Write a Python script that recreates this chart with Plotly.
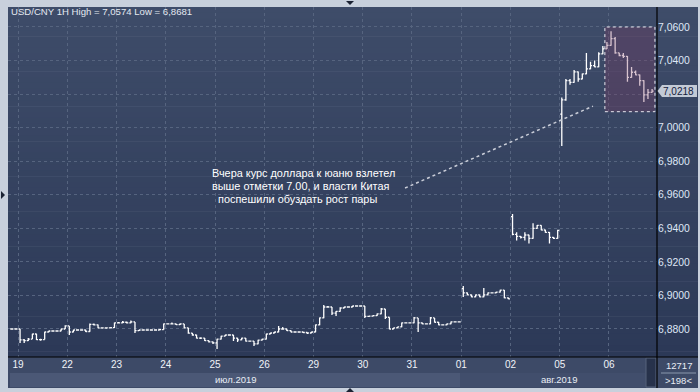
import plotly.graph_objects as go

# ---------------- data ----------------
day_labels = ["19", "22", "23", "24", "25", "26", "29", "30", "31", "01", "02", "05", "06"]
month_labels = ["июл.2019", "авг.2019"]
bars_per_day = 12
lead_bars = 2          # bars of 18 Jul visible before the 19th

opens = [
    6.8800, 6.8800,
    # 19
    6.8800, 6.8735, 6.8730, 6.8740, 6.8770, 6.8737, 6.8737, 6.8782, 6.8788, 6.8788, 6.8788, 6.8800,
    # 22
    6.8818, 6.8782, 6.8794, 6.8794, 6.8794, 6.8785, 6.8828, 6.8825, 6.8806, 6.8806, 6.8806, 6.8808,
    # 23
    6.8836, 6.8836, 6.8840, 6.8836, 6.8842, 6.8790, 6.8794, 6.8794, 6.8794, 6.8794, 6.8794, 6.8796,
    # 24
    6.8830, 6.8830, 6.8830, 6.8826, 6.8830, 6.8806, 6.8775, 6.8764, 6.8746, 6.8746, 6.8730, 6.8723,
    # 25
    6.8717, 6.8740, 6.8758, 6.8764, 6.8764, 6.8746, 6.8735, 6.8746, 6.8728, 6.8728, 6.8711, 6.8734,
    # 26
    6.8740, 6.8770, 6.8776, 6.8782, 6.8800, 6.8800, 6.8790, 6.8782, 6.8782, 6.8782, 6.8779, 6.8776,
    # 29
    6.8782, 6.8824, 6.8866, 6.8931, 6.8931, 6.8895, 6.8905, 6.8925, 6.8931, 6.8931, 6.8937, 6.8937,
    # 30
    6.8937, 6.8875, 6.8877, 6.8880, 6.8890, 6.8919, 6.8870, 6.8800, 6.8806, 6.8812, 6.8836, 6.8836,
    # 31
    6.8836, 6.8866, 6.8836, 6.8830, 6.8830, 6.8866, 6.8840, 6.8824, 6.8824, 6.8830, 6.8842, 6.8842,
    # 01
    6.9040, 6.9015, 6.9003, 6.8991, 6.9003, 6.8991, 6.9003, 6.9015, 6.9015, 6.9020, 6.9032, 6.8985,
    # 02
    6.9470, 6.9364, 6.9352, 6.9346, 6.9360, 6.9340, 6.9400, 6.9418, 6.9390, 6.9376, 6.9346, 6.9340,
    # 05
    7.0080, 7.0165, 7.0280, 7.0270, 7.0332, 7.0290, 7.0320, 7.0350, 7.0370, 7.0362, 7.0440, 7.0470,
    # 06
    7.0490, 7.0530, 7.0445, 7.0430, 7.0425, 7.0300, 7.0330, 7.0314, 7.0280, 7.0195, 7.0210,
]
highs = [
    6.8804, 6.8804,
    6.8800, 6.8740, 6.8746, 6.8772, 6.8772, 6.8742, 6.8784, 6.8790, 6.8790, 6.8792, 6.8802, 6.8822,
    6.8818, 6.8796, 6.8796, 6.8798, 6.8796, 6.8832, 6.8832, 6.8826, 6.8808, 6.8810, 6.8810, 6.8838,
    6.8842, 6.8848, 6.8844, 6.8850, 6.8842, 6.8796, 6.8798, 6.8796, 6.8798, 6.8796, 6.8800, 6.8832,
    6.8834, 6.8838, 6.8832, 6.8834, 6.8830, 6.8808, 6.8776, 6.8766, 6.8750, 6.8746, 6.8732, 6.8725,
    6.8742, 6.8760, 6.8766, 6.8766, 6.8764, 6.8748, 6.8748, 6.8746, 6.8732, 6.8728, 6.8736, 6.8742,
    6.8772, 6.8778, 6.8784, 6.8818, 6.8812, 6.8802, 6.8792, 6.8786, 6.8784, 6.8784, 6.8780, 6.8784,
    6.8826, 6.8868, 6.8943, 6.8937, 6.8931, 6.8907, 6.8929, 6.8933, 6.8935, 6.8939, 6.8939, 6.8939,
    6.8937, 6.8879, 6.8882, 6.8892, 6.8925, 6.8919, 6.8870, 6.8808, 6.8814, 6.8838, 6.8838, 6.8840,
    6.8872, 6.8866, 6.8838, 6.8834, 6.8872, 6.8866, 6.8842, 6.8828, 6.8832, 6.8844, 6.8846, 6.8846,
    6.9056, 6.9017, 6.9005, 6.9005, 6.9005, 6.9044, 6.9017, 6.9018, 6.9022, 6.9034, 6.9032, 6.8987,
    6.9485, 6.9376, 6.9354, 6.9376, 6.9362, 6.9430, 6.9420, 6.9418, 6.9392, 6.9378, 6.9348, 6.9392,
    7.0180, 7.0290, 7.0290, 7.0344, 7.0334, 7.0322, 7.0445, 7.0392, 7.0400, 7.0450, 7.0487, 7.0510,
    7.0574, 7.0540, 7.0447, 7.0445, 7.0427, 7.0362, 7.0340, 7.0316, 7.0282, 7.0230, 7.0230,
]
lows = [
    6.8796, 6.8796,
    6.8717, 6.8717, 6.8728, 6.8740, 6.8734, 6.8730, 6.8737, 6.8780, 6.8785, 6.8786, 6.8786, 6.8800,
    6.8764, 6.8780, 6.8790, 6.8790, 6.8782, 6.8784, 6.8820, 6.8804, 6.8802, 6.8802, 6.8804, 6.8806,
    6.8832, 6.8834, 6.8832, 6.8834, 6.8776, 6.8788, 6.8790, 6.8792, 6.8790, 6.8790, 6.8792, 6.8796,
    6.8826, 6.8828, 6.8824, 6.8824, 6.8804, 6.8772, 6.8760, 6.8744, 6.8740, 6.8728, 6.8720, 6.8711,
    6.8681, 6.8738, 6.8756, 6.8760, 6.8728, 6.8723, 6.8733, 6.8726, 6.8724, 6.8699, 6.8709, 6.8732,
    6.8738, 6.8768, 6.8774, 6.8780, 6.8796, 6.8788, 6.8780, 6.8780, 6.8778, 6.8776, 6.8770, 6.8774,
    6.8780, 6.8822, 6.8864, 6.8926, 6.8883, 6.8877, 6.8903, 6.8923, 6.8929, 6.8929, 6.8933, 6.8935,
    6.8866, 6.8872, 6.8875, 6.8878, 6.8888, 6.8860, 6.8798, 6.8798, 6.8804, 6.8810, 6.8832, 6.8834,
    6.8834, 6.8782, 6.8828, 6.8828, 6.8828, 6.8838, 6.8822, 6.8822, 6.8822, 6.8828, 6.8840, 6.8838,
    6.8991, 6.9001, 6.8989, 6.8989, 6.8989, 6.8989, 6.9001, 6.9012, 6.9013, 6.9018, 6.8983, 6.8977,
    6.9358, 6.9328, 6.9340, 6.9328, 6.9310, 6.9338, 6.9398, 6.9388, 6.9374, 6.9310, 6.9336, 6.9338,
    6.9891, 7.0160, 7.0255, 7.0268, 7.0273, 7.0288, 7.0318, 7.0348, 7.0360, 7.0360, 7.0438, 7.0468,
    7.0488, 7.0440, 7.0425, 7.0415, 7.0273, 7.0298, 7.0312, 7.0250, 7.0153, 7.0170, 7.0208,
]
closes = [
    6.8800, 6.8800,
    6.8735, 6.8730, 6.8740, 6.8770, 6.8737, 6.8737, 6.8782, 6.8788, 6.8788, 6.8788, 6.8800, 6.8818,
    6.8782, 6.8794, 6.8794, 6.8794, 6.8785, 6.8828, 6.8825, 6.8806, 6.8806, 6.8806, 6.8808, 6.8836,
    6.8836, 6.8840, 6.8836, 6.8842, 6.8790, 6.8794, 6.8794, 6.8794, 6.8794, 6.8794, 6.8796, 6.8830,
    6.8830, 6.8830, 6.8826, 6.8830, 6.8806, 6.8775, 6.8764, 6.8746, 6.8746, 6.8730, 6.8723, 6.8717,
    6.8740, 6.8758, 6.8764, 6.8764, 6.8746, 6.8735, 6.8746, 6.8728, 6.8728, 6.8711, 6.8734, 6.8740,
    6.8770, 6.8776, 6.8782, 6.8800, 6.8800, 6.8790, 6.8782, 6.8782, 6.8782, 6.8779, 6.8776, 6.8782,
    6.8824, 6.8866, 6.8931, 6.8931, 6.8895, 6.8905, 6.8925, 6.8931, 6.8931, 6.8937, 6.8937, 6.8937,
    6.8875, 6.8877, 6.8880, 6.8890, 6.8919, 6.8870, 6.8800, 6.8806, 6.8812, 6.8836, 6.8836, 6.8836,
    6.8866, 6.8836, 6.8830, 6.8830, 6.8866, 6.8840, 6.8824, 6.8824, 6.8830, 6.8842, 6.8842, 6.8842,
    6.9015, 6.9003, 6.8991, 6.9003, 6.8991, 6.9003, 6.9015, 6.9015, 6.9020, 6.9032, 6.8985, 6.8979,
    6.9364, 6.9352, 6.9346, 6.9360, 6.9340, 6.9400, 6.9418, 6.9390, 6.9376, 6.9346, 6.9340, 6.9388,
    7.0165, 7.0280, 7.0270, 7.0332, 7.0290, 7.0320, 7.0350, 7.0370, 7.0362, 7.0440, 7.0470, 7.0490,
    7.0530, 7.0445, 7.0430, 7.0425, 7.0300, 7.0330, 7.0314, 7.0280, 7.0195, 7.0210, 7.0218,
]

y_ticks = [6.88, 6.90, 6.92, 6.94, 6.96, 6.98, 7.00, 7.02, 7.04, 7.06]
y_tick_labels = ["6,8800", "6,9000", "6,9200", "6,9400", "6,9600", "6,9800",
                 "7,0000", "", "7,0400", "7,0600"]

note_lines = ["Вчера курс доллара к юаню взлетел",
              "выше отметки 7.00, и власти Китая",
              "\u00a0\u00a0поспешили обуздать рост пары"]
bar_count_text = "12717"
visible_text = ">198<"

# annotation geometry (data coords)
note_line = dict(x0=95.8, y0=6.9640, x1=141.6, y1=7.0128)
focus_box = dict(x0=144.5, x1=156.7, y0=7.0095, y1=7.0600)

# ---------------- layout constants ----------------
W, H = 700, 392
ML, MR, MT, MB = 8, 43, 7, 35
PW, PH = W - ML - MR, H - MT - MB
FONT = "Liberation Sans, Arial, sans-serif"


def pxx(px):
    return (px - ML) / PW


def pxy(py):
    return (H - MB - py) / PH


x_idx = list(range(len(closes)))
day_ticks = [lead_bars - 0.5 + bars_per_day * k for k in range(len(day_labels))]
x_range = [-0.94, 157.2]
y_range = [6.8633, 7.0719]

fig = go.Figure()
fig.add_trace(go.Ohlc(
    x=x_idx, open=opens, high=highs, low=lows, close=closes,
    increasing=dict(line=dict(color="#ffffff", width=1.3)),
    decreasing=dict(line=dict(color="#ffffff", width=1.3)),
    tickwidth=0.38, hoverinfo="skip", showlegend=False,
))

shapes = []
# vertical gradient background for the dark chart panel
top_c = (62, 76, 105)
bot_c = (44, 57, 87)
n_bands = 60
y_top_px, y_bot_px = 7, 357
for i in range(n_bands):
    t = i / (n_bands - 1)
    c = tuple(round(top_c[k] + (bot_c[k] - top_c[k]) * t) for k in range(3))
    py0 = y_top_px + (y_bot_px - y_top_px) * i / n_bands
    py1 = y_top_px + (y_bot_px - y_top_px) * (i + 1) / n_bands + 0.6
    shapes.append(dict(type="rect", xref="paper", yref="paper", layer="below",
                       x0=pxx(8), x1=pxx(698), y0=pxy(py1), y1=pxy(py0),
                       fillcolor="rgb(%d,%d,%d)" % c, line=dict(width=0)))
# bottom label strip
shapes.append(dict(type="rect", xref="paper", yref="paper", layer="below",
                   x0=pxx(8), x1=pxx(698), y0=pxy(388), y1=pxy(357),
                   fillcolor="#3d4a67", line=dict(width=0)))
shapes.append(dict(type="rect", xref="paper", yref="paper", layer="below",
                   x0=pxx(10), x1=pxx(460), y0=pxy(387), y1=pxy(373),
                   fillcolor="#4b5876", line=dict(width=0)))
shapes.append(dict(type="rect", xref="paper", yref="paper", layer="below",
                   x0=pxx(460), x1=pxx(645), y0=pxy(387), y1=pxy(373),
                   fillcolor="#414e6c", line=dict(width=0)))
shapes.append(dict(type="rect", xref="paper", yref="paper", layer="below",
                   x0=pxx(646), x1=pxx(656), y0=pxy(387), y1=pxy(358),
                   fillcolor="#27324b", line=dict(color="#56627c", width=1)))
# separator lines
shapes.append(dict(type="line", xref="paper", yref="paper", layer="above",
                   x0=pxx(657), x1=pxx(657), y0=pxy(388), y1=pxy(7),
                   line=dict(color="#000000", width=1.2)))
shapes.append(dict(type="line", xref="paper", yref="paper", layer="above",
                   x0=pxx(8), x1=pxx(698), y0=pxy(357), y1=pxy(357),
                   line=dict(color="#000000", width=1.2)))
shapes.append(dict(type="line", xref="paper", yref="paper", layer="above",
                   x0=pxx(661), x1=pxx(696), y0=pxy(373), y1=pxy(373),
                   line=dict(color="#8a97ad", width=1)))
# frame triangles
shapes.append(dict(type="path", xref="paper", yref="paper", layer="above",
                   path="M %f %f L %f %f L %f %f Z" % (pxx(346), pxy(1), pxx(354), pxy(1), pxx(350), pxy(5)),
                   fillcolor="#1b2233", line=dict(width=0)))
shapes.append(dict(type="path", xref="paper", yref="paper", layer="above",
                   path="M %f %f L %f %f L %f %f Z" % (pxx(1), pxy(191), pxx(1), pxy(199), pxx(5), pxy(195)),
                   fillcolor="#1b2233", line=dict(width=0)))
shapes.append(dict(type="path", xref="paper", yref="paper", layer="above",
                   path="M %f %f L %f %f L %f %f Z" % (pxx(346), pxy(392), pxx(354), pxy(392), pxx(350), pxy(388)),
                   fillcolor="#1b2233", line=dict(width=0)))
# highlighted box over 06 Aug
shapes.append(dict(type="rect", xref="x", yref="y", layer="above",
                   fillcolor="rgba(125,55,95,0.30)",
                   line=dict(color="#e8e8f0", width=1, dash="dot"), **focus_box))
# dotted pointer line
shapes.append(dict(type="line", xref="x", yref="y", layer="above",
                   line=dict(color="#c9cdd8", width=1.5, dash="dot"), **note_line))
# last price marker
last_price = closes[-1]
half_h = 6 / (PH / (y_range[1] - y_range[0]))
shapes.append(dict(type="path", xref="paper", yref="y", layer="above",
                   path="M %f %f L %f %f L %f %f L %f %f L %f %f Z" % (
                       pxx(657.5), last_price,
                       pxx(662), last_price + half_h,
                       pxx(697), last_price + half_h,
                       pxx(697), last_price - half_h,
                       pxx(662), last_price - half_h),
                   fillcolor="#c3cad6", line=dict(width=0)))

annotations = []
title = "USD/CNY 1H High = %s Low = %s" % (
    ("%.4f" % max(highs)).replace(".", ","), ("%.4f" % min(lows)).replace(".", ","))
annotations.append(dict(xref="paper", yref="paper", x=pxx(9), y=pxy(12),
                        xanchor="left", yanchor="middle", showarrow=False, text=title,
                        font=dict(family=FONT, size=9.6, color="#e4e9f1")))
for k, line in enumerate(note_lines):
    annotations.append(dict(xref="paper", yref="paper", x=pxx(210), y=pxy(173 + 13 * k),
                            xanchor="left", yanchor="middle", showarrow=False,
                            text=line, font=dict(family=FONT, size=10.9, color="#ffffff")))
annotations.append(dict(xref="paper", yref="y", x=pxx(679), y=last_price,
                        xanchor="center", yanchor="middle", showarrow=False,
                        text=("%.4f" % last_price).replace(".", ","),
                        font=dict(family=FONT, size=10, color="#14213d")))
annotations.append(dict(xref="paper", yref="paper", x=pxx(236), y=pxy(380),
                        xanchor="center", yanchor="middle", showarrow=False,
                        text=month_labels[0], font=dict(family=FONT, size=9.5, color="#e8edf5")))
annotations.append(dict(xref="paper", yref="paper", x=pxx(559), y=pxy(380),
                        xanchor="center", yanchor="middle", showarrow=False,
                        text=month_labels[1], font=dict(family=FONT, size=9.5, color="#e8edf5")))
annotations.append(dict(xref="paper", yref="paper", x=pxx(679), y=pxy(365),
                        xanchor="center", yanchor="middle", showarrow=False,
                        text=bar_count_text, font=dict(family=FONT, size=9.5, color="#e8edf5")))
annotations.append(dict(xref="paper", yref="paper", x=pxx(679), y=pxy(380.5),
                        xanchor="center", yanchor="middle", showarrow=False,
                        text=visible_text, font=dict(family=FONT, size=9.5, color="#e8edf5")))

grid_col = "#56647f"
fig.update_layout(
    width=W, height=H,
    margin=dict(l=ML, r=MR, t=MT, b=MB, pad=0),
    paper_bgcolor="#c8d0dc",
    plot_bgcolor="rgba(0,0,0,0)",
    separators=", ",
    showlegend=False,
    shapes=shapes,
    annotations=annotations,
    xaxis=dict(range=x_range, tickmode="array", tickvals=day_ticks, ticktext=day_labels,
               showgrid=True, gridcolor=grid_col, griddash="3px,3px", gridwidth=1,
               zeroline=False, showline=False, ticks="",
               tickfont=dict(family=FONT, size=10, color="#f0f3f8"),
               rangeslider=dict(visible=False), fixedrange=True),
    yaxis=dict(range=y_range, side="right", tickmode="array", tickvals=y_ticks,
               ticktext=y_tick_labels, showgrid=True, gridcolor=grid_col,
               griddash="3px,3px", gridwidth=1, zeroline=False, showline=False, ticks="",
               tickfont=dict(family=FONT, size=10.4, color="#dfe7f6"), fixedrange=True),
)

fig.write_html("out.html", config={"displayModeBar": False},
               post_script="document.body.style.margin='0';document.body.style.overflow='hidden';")
